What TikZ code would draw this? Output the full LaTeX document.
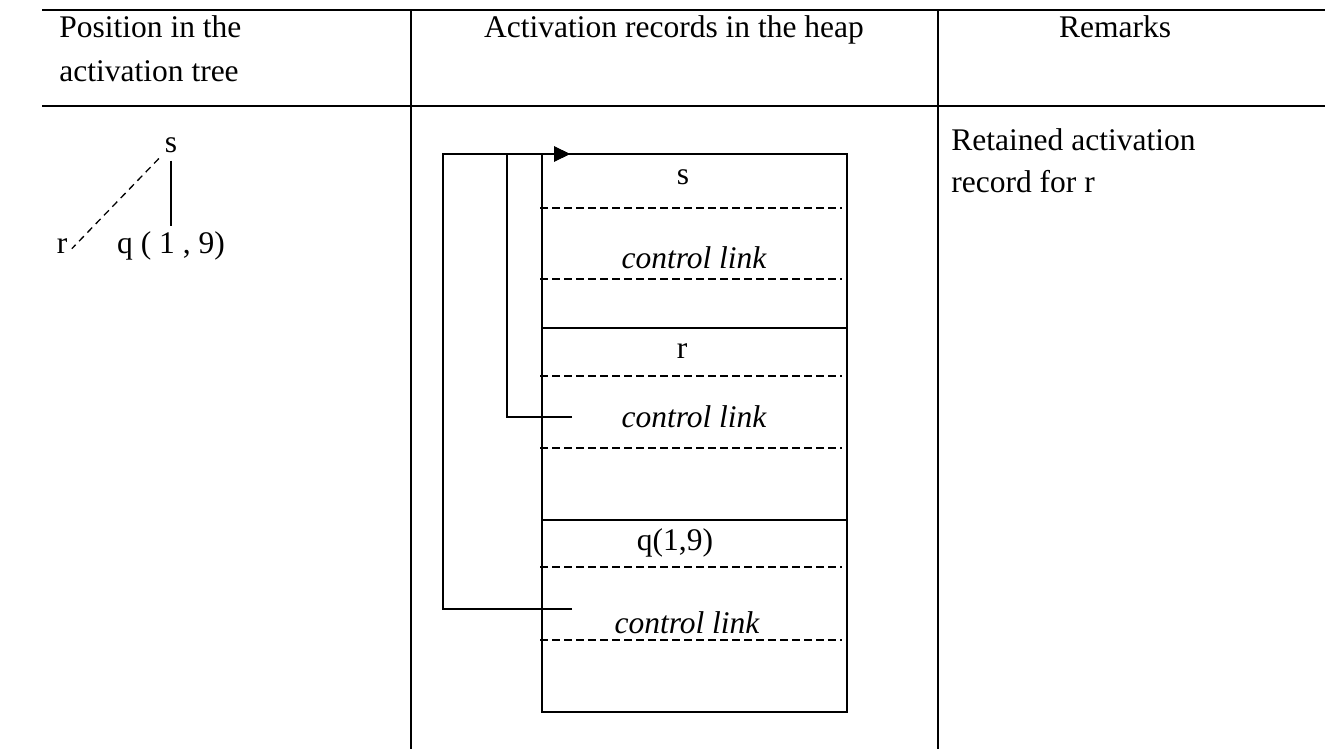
\documentclass[tikz,border=0pt]{standalone}
\usepackage{fontspec}
\setmainfont{Liberation Serif}
\usetikzlibrary{arrows.meta}
\newcommand{\colA}{411}
\newcommand{\colB}{938}
\newcommand{\boxL}{542}
\newcommand{\boxR}{847}
\newcommand{\txtSize}{\fontsize{15.75}{22}\selectfont}

\tikzset{
	tabline/.style={line width=1pt},
	recline/.style={line width=0.65pt},
	dashsep/.style={line width=0.65pt, dash pattern=on 4pt off 2pt},
	treeline/.style={line width=1pt},
	treedash/.style={line width=0.65pt, dash pattern=on 3.5pt off 2.5pt},
	link/.style={line width=1pt, -{Triangle[length=8pt,width=7.5pt]}},
	txt/.style={inner sep=0pt, anchor=base, font=\txtSize},
	ital/.style={txt, font=\txtSize\itshape}
}

\begin{document}
\begin{tikzpicture}[x=0.5pt, y=-0.5pt]
	\useasboundingbox (0,0) rectangle (1325,749);
	\draw[tabline] (42,10) -- (1325,10);
	\draw[tabline] (42,106) -- (1325,106);
	\draw[tabline] (\colA,10) -- (\colA,749);
	\draw[tabline] (\colB,10) -- (\colB,749);

	\node[txt, anchor=base west] (hPos1) at (59,38) {Position in the};
	\node[txt, anchor=base west] (hPos2) at (59,82) {activation tree};
	\node[txt] (hHeap) at (674,38) {Activation records in the heap};
	\node[txt] (hRem) at (1115,38) {Remarks};

	\node[txt] (tS) at (171,152) {s};
	\node[txt] (tR) at (62,253) {r};
	\node[txt] (tQ) at (171,253) {q ( 1 , 9)};
	\draw[treeline, shorten <=4pt, shorten >=2.5pt] (tS.south) -- (tQ.north);
	\draw[treedash, shorten <=4pt, shorten >=3pt] (tS.south west) -- (tR.base east);

	\draw[recline] (\boxL,154) rectangle (\boxR,712);
	\draw[recline] (\boxL,328) -- (\boxR,328);
	\draw[recline] (\boxL,520) -- (\boxR,520);
	\foreach \y in {208,279,376,448,567,640}{
		\draw[dashsep] (540,\y) -- (842,\y);
		}

	\node[txt] (recS) at (683,184) {s};
	\node[ital] (linkS) at (694,268) {control link};
	\node[txt] (recR) at (682,358) {r};
	\node[ital] (linkR) at (694,427) {control link};
	\node[txt] (recQ) at (675,550) {q(1,9)};
	\node[ital] (linkQ) at (687,633) {control link};

	\coordinate (sTop) at (570,154);
	\coordinate (rFrom) at (572,417);
	\coordinate (qFrom) at (572,609);
	\draw[link] (rFrom) -- ++(-65,0) |- (sTop);
	\draw[link] (qFrom) -- ++(-129,0) |- (sTop);

	\node[txt, anchor=base west] (note1) at (951,150) {Retained activation};
	\node[txt, anchor=base west] (note2) at (951,192) {record for r};
\end{tikzpicture}
\end{document}
